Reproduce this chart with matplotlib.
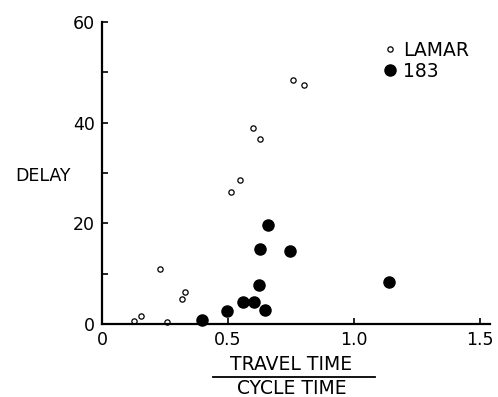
import matplotlib
matplotlib.use("Agg")
import matplotlib.pyplot as plt
from matplotlib.ticker import MultipleLocator

lamar_x = [0.126, 0.155, 0.258, 0.229, 0.317, 0.329, 0.511, 0.546, 0.599, 0.628, 0.759, 0.803]
lamar_y = [0.5, 1.6, 0.4, 10.9, 5.0, 6.3, 26.3, 28.6, 38.9, 36.8, 48.4, 47.4]
r183_x = [0.397, 0.495, 0.560, 0.603, 0.648, 0.623, 0.628, 0.659, 0.747, 1.138]
r183_y = [0.7, 2.6, 4.4, 4.4, 2.7, 7.7, 15.0, 19.7, 14.6, 8.3]

x_ticks = [0, 0.5, 1.0, 1.5]
x_ticklabels = ["0", "0.5", "1.0", "1.5"]
y_ticks = [0, 20, 40, 60]
y_ticklabels = ["0", "20", "40", "60"]

fig = plt.figure(figsize=(4.98, 3.97), dpi=100)
ax = fig.add_axes([102/498, (397-324)/397, (490-102)/498, (324-22)/397])

ax.plot(lamar_x, lamar_y, linestyle="none", marker="o", markersize=3.8,
        markerfacecolor="white", markeredgecolor="black", markeredgewidth=0.9,
        clip_on=False, label="LAMAR")
ax.plot(r183_x, r183_y, linestyle="none", marker="o", markersize=8,
        markerfacecolor="black", markeredgecolor="black",
        clip_on=False, label="183")

ax.set_xlim(0, 1.54)
ax.set_ylim(0, 60)
for s in ["top", "right"]:
    ax.spines[s].set_visible(False)
for s in ["left", "bottom"]:
    ax.spines[s].set_linewidth(1.6)

ax.set_xticks(x_ticks)
ax.set_xticklabels(x_ticklabels, fontsize=12.5)
ax.set_yticks(y_ticks)
ax.set_yticklabels(y_ticklabels, fontsize=12.5)
ax.yaxis.set_minor_locator(MultipleLocator(10))
ax.tick_params(axis="both", which="both", direction="in", length=4, width=1.2, pad=5)

ax.text(-0.08, 0.49, "DELAY", transform=ax.transAxes, fontsize=12.5,
        ha="right", va="center")

fig.text(291/498, 1 - 364/397, "TRAVEL TIME", fontsize=13.5, ha="center", va="center")
fig.text(292/498, 1 - 388.5/397, "CYCLE TIME", fontsize=13.5, ha="center", va="center")
fig.add_artist(plt.Line2D([213/498, 375/498], [1 - 377/397, 1 - 377/397],
                          color="black", linewidth=1.3))

leg = ax.legend(loc="upper left", bbox_to_anchor=((384-102)/388, 1 - (41-22)/302),
                frameon=False, fontsize=13.5, handlelength=0.6, handletextpad=0.4,
                borderpad=0, borderaxespad=0, labelspacing=0.1)

fig.savefig("out.png", dpi=100)
